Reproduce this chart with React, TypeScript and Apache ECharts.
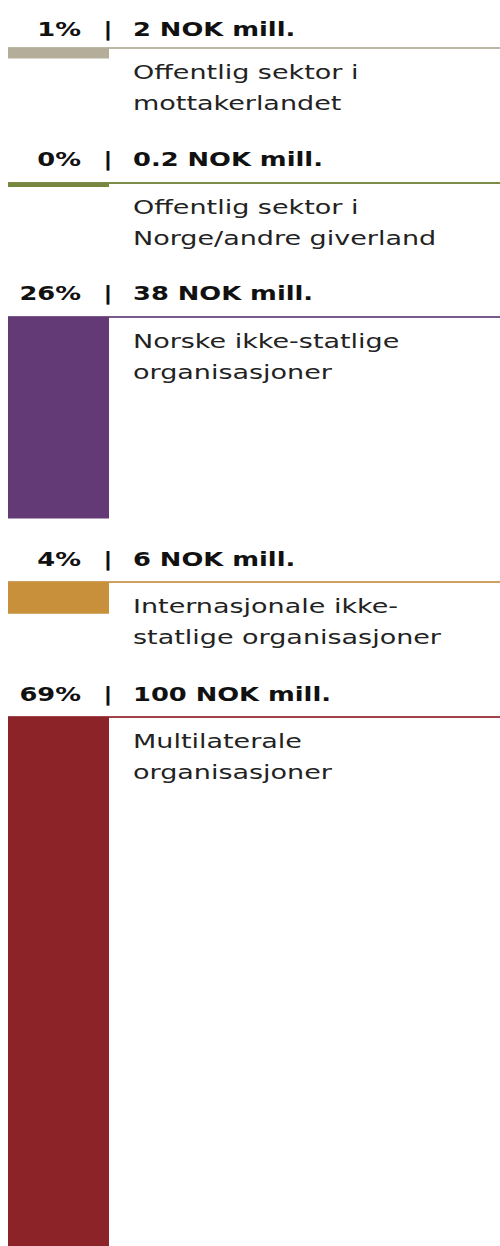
import React, { useEffect, useRef } from "react";
import * as echarts from "echarts";

// ---- data ----
const categories = [
  "Offentlig sektor i mottakerlandet",
  "Offentlig sektor i Norge/andre giverland",
  "Norske ikke-statlige organisasjoner",
  "Internasjonale ikke-statlige organisasjoner",
  "Multilaterale organisasjoner",
];
const labelLines = [
  ["Offentlig sektor i", "mottakerlandet"],
  ["Offentlig sektor i", "Norge/andre giverland"],
  ["Norske ikke-statlige", "organisasjoner"],
  ["Internasjonale ikke-", "statlige organisasjoner"],
  ["Multilaterale", "organisasjoner"],
];
const values = [2, 0.2, 38, 6, 100];
const percents = ["1%", "0%", "26%", "4%", "69%"];
const colors = ["#b4ad99", "#76873f", "#633a76", "#c8903b", "#8c2329"];
const lineColors = ["#bcb6a4", "#7d8d48", "#7a5a8c", "#d0a060", "#a0444a"];

// ---- layout ----
const lineY = [48, 183, 317, 582, 717];
const headerBaseline = [36, 166, 300, 566, 701];
const labelOffset1 = 31;
const labelGap = 31;
const PX_PER_UNIT = 5.3;
const AXIS_MAX = 100;

export default function App() {
  const ref = useRef<HTMLDivElement>(null);

  useEffect(() => {
    document.body.style.margin = "0";
    const chart = echarts.init(ref.current!, null, { renderer: "svg" });
    const n = values.length;
    const grids = lineY.map((y) => ({
      left: 8,
      top: y,
      width: 101,
      height: AXIS_MAX * PX_PER_UNIT,
    }));
    const xAxes = categories.map((c, i) => ({
      type: "category",
      gridIndex: i,
      data: [c],
      show: false,
      boundaryGap: true,
    }));
    const yAxes = categories.map((_, i) => ({
      type: "value",
      gridIndex: i,
      min: 0,
      max: AXIS_MAX,
      inverse: true,
      show: false,
    }));
    const series = values.map((v, i) => ({
      type: "bar",
      xAxisIndex: i,
      yAxisIndex: i,
      data: [v],
      barWidth: "100%",
      barMinHeight: 4,
      itemStyle: { color: colors[i] },
      silent: true,
      z: 3,
    }));

    const font = "DejaVu Sans, Verdana, sans-serif";
    const graphics: any[] = [];
    for (let i = 0; i < n; i++) {
      graphics.push({
        type: "line",
        z: 1,
        shape: { x1: 8, y1: lineY[i], x2: 500, y2: lineY[i] },
        style: { stroke: lineColors[i], lineWidth: 2 },
      });
      const hb = headerBaseline[i] - 7;
      graphics.push({
        type: "text",
        x: 81,
        y: hb,
        scaleX: 1.32,
        style: {
          text: percents[i],
          fontFamily: font,
          fontWeight: "bold",
          fontSize: 19.5,
          fill: "#111",
          align: "right",
          verticalAlign: "middle",
        },
      });
      graphics.push({
        type: "text",
        x: 108,
        y: hb,
        scaleX: 1.32,
        style: {
          text: "|",
          fontFamily: font,
          fontWeight: "bold",
          fontSize: 19.5,
          fill: "#111",
          align: "center",
          verticalAlign: "middle",
        },
      });
      graphics.push({
        type: "text",
        x: 133,
        y: hb,
        scaleX: 1.32,
        style: {
          text: `${values[i]} NOK mill.`,
          fontFamily: font,
          fontWeight: "bold",
          fontSize: 19.5,
          fill: "#111",
          align: "left",
          verticalAlign: "middle",
        },
      });
      labelLines[i].forEach((t, k) => {
        graphics.push({
          type: "text",
          x: 133,
          y: lineY[i] + labelOffset1 + k * labelGap - 7,
          scaleX: 1.35,
          style: {
            text: t,
            fontFamily: font,
            fontSize: 20,
            fill: "#222",
            align: "left",
            verticalAlign: "middle",
          },
        });
      });
    }

    chart.setOption({
      animation: false,
      backgroundColor: "#ffffff",
      grid: grids,
      xAxis: xAxes,
      yAxis: yAxes,
      series,
      graphic: graphics,
    } as any);
    return () => chart.dispose();
  }, []);

  return (
    <div
      ref={ref}
      style={{ position: "absolute", left: 0, top: 0, width: 500, height: 1246 }}
    />
  );
}
